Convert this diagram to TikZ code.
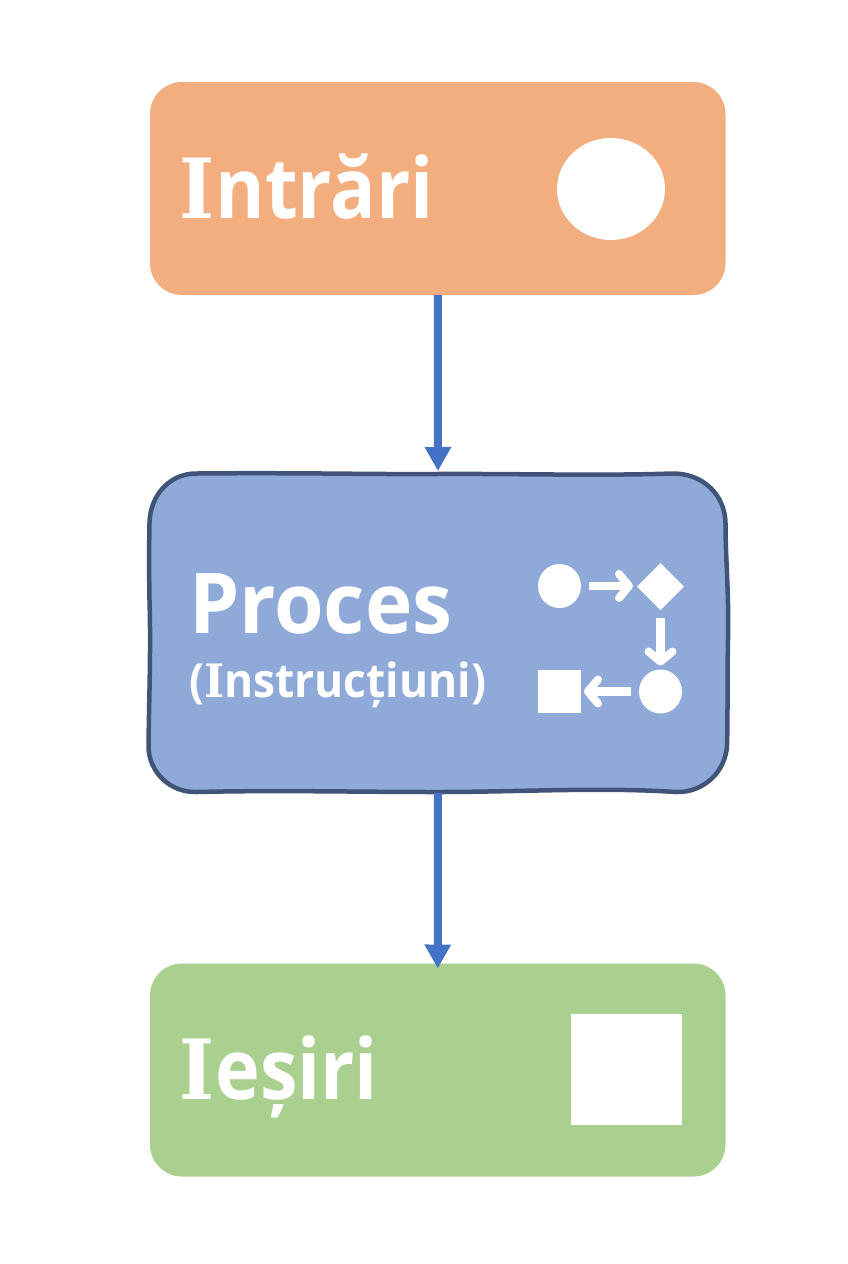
\documentclass[tikz,border=0pt]{standalone}
\usepackage{fontspec}
\usepackage{graphicx}
\setmainfont{Open Sans}[BoldFont={Open Sans Bold}]
\newfontfamily\slabfont{DejaVu Serif}
\usetikzlibrary{arrows.meta,shapes.geometric}
\definecolor{inC}{HTML}{F3AE80}
\definecolor{procC}{HTML}{8FA9D9}
\definecolor{outC}{HTML}{A9D08E}
\definecolor{edgeC}{HTML}{40547A}
\definecolor{flowC}{HTML}{4472C4}
\newcommand{\bigtxt}{\fontsize{84}{84}\selectfont\bfseries}
\newcommand{\subtxt}{\fontsize{47}{47}\selectfont\bfseries}
\newcommand{\slabI}[1]{{\slabfont\fontsize{#1}{#1}\selectfont\bfseries I}}
\tikzset{
  x=1pt,y=-1pt,
  box/.style={rounded corners=32pt,minimum width=575.5pt,minimum height=213pt,inner sep=0pt,outer sep=0pt,fill=#1},
  lbl/.style={anchor=base west,text=white,inner sep=0pt,outer sep=0pt},
  icon/.style={fill=white,inner sep=0pt,outer sep=0pt},
  flow/.style={draw=flowC,line width=8pt,-{Triangle[length=24pt,width=25pt,fill=flowC]}},
  mini/.style={draw=white,line width=8.5pt,-{Straight Barb[length=10pt,width=24pt,line width=8pt,round]}}
}
\begin{document}
\begin{tikzpicture}
\useasboundingbox (0,0) rectangle (848,1264);
\fill[white] (0,0) rectangle (848,1264);

% top box
\node[box=inC] (in) at (437.75,188.5) {};
\node[lbl] (inT) at (179.5,218) {\scalebox{0.9}[1]{\bigtxt\slabI{83}\kern1pt ntrări}};
\node[icon,ellipse,minimum width=108pt,minimum height=102pt] (inI) at (611,189) {};

% process box
\node[minimum width=578pt,minimum height=320pt,inner sep=0pt,outer sep=0pt] (proc) at (438,633) {};
\draw[draw=edgeC,fill=procC,line width=4.5pt]
 (197,473.5) .. controls (300,472.5) and (370,474.5) .. (437,474)
 .. controls (510,473.5) and (600,476) .. (672,473.5)
 .. controls (703,473) and (725,495) .. (725.5,523)
 .. controls (725.5,560) and (729,590) .. (728,640)
 .. controls (727,690) and (728,710) .. (727,745)
 .. controls (726,772) and (703,793) .. (676,792)
 .. controls (600,787) and (520,792) .. (437,792)
 .. controls (350,792) and (280,790) .. (197,792)
 .. controls (170,793) and (149,772) .. (148.5,747)
 .. controls (149,700) and (151,650) .. (149.5,600)
 .. controls (149,570) and (149,550) .. (149.5,523)
 .. controls (150,495) and (170,473) .. (197,473.5) -- cycle;
\node[lbl] (procT) at (189,633) {\scalebox{0.955}[1]{\bigtxt Proces}};
\node[lbl] (procS) at (189,697) {\scalebox{0.943}[1]{\subtxt(\slabI{46}nstrucțiuni)}};
\node[icon,ellipse,minimum width=43pt,minimum height=44pt] (c1) at (559.5,586) {};
\node[icon,diamond,minimum width=47pt,minimum height=47pt] (d1) at (660.5,586.5) {};
\node[icon,ellipse,minimum width=43pt,minimum height=44pt] (c2) at (660.5,691.5) {};
\node[icon,rectangle,minimum width=43pt,minimum height=43pt] (s1) at (559.5,691.5) {};
\draw[mini,shorten <=8pt,shorten >=4pt] (c1.east) -- (d1.west |- c1.east);
\draw[mini,shorten <=8pt,shorten >=4pt] (d1.south) -- (c2.north);
\draw[mini,shorten <=8pt,shorten >=3pt] (c2.west) -- (s1.east);

% bottom box
\node[box=outC] (out) at (437.75,1070) {};
\node[lbl] (outT) at (179.5,1099) {\scalebox{0.9}[1]{\bigtxt\slabI{83}\kern1pt eșiri}};
\node[icon,rectangle,minimum width=111.5pt,minimum height=111pt] (outI) at (626.25,1069.5) {};

% connectors
\draw[flow,shorten >=2pt] (in.south) -- (proc.north);
\draw[flow,shorten >=-5pt] (proc.south) -- (out.north);
\end{tikzpicture}
\end{document}
